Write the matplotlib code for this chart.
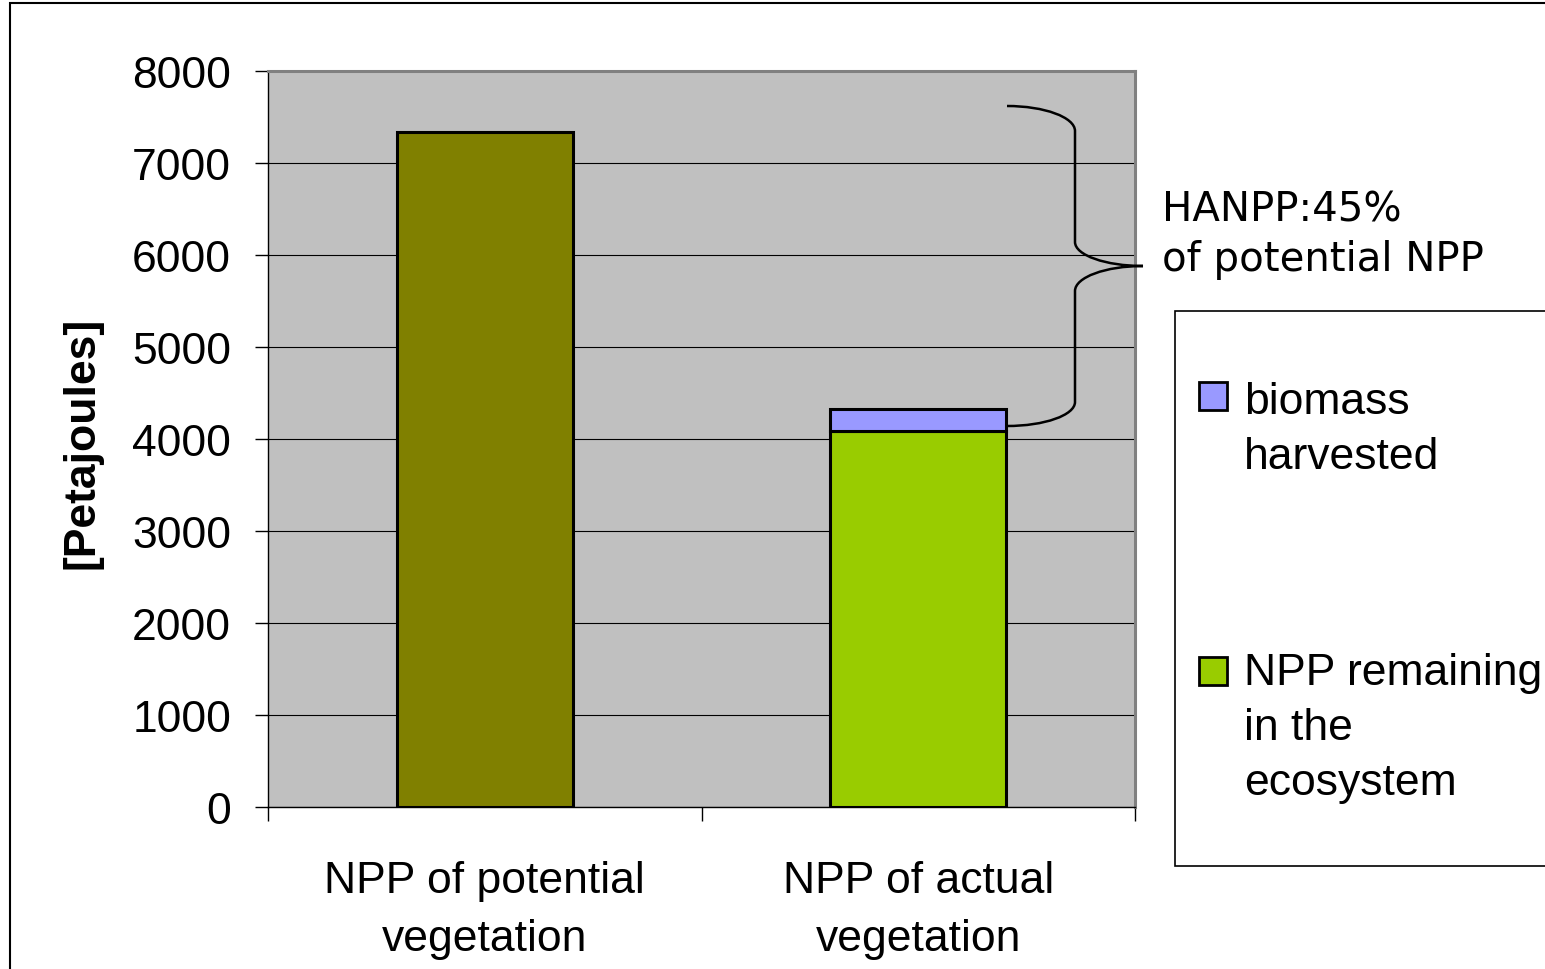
import matplotlib
matplotlib.use("Agg")
import matplotlib.pyplot as plt
from matplotlib.patches import Rectangle, PathPatch
from matplotlib.path import Path

# ---- data -------------------------------------------------------------
categories = ["NPP of potential\nvegetation", "NPP of actual\nvegetation"]
npp_potential = [7340, 0]       # olive column
npp_remaining = [0, 4090]       # green segment
biomass_harvested = [0, 240]    # blue segment on top of the green one
y_ticks = [0, 1000, 2000, 3000, 4000, 5000, 6000, 7000, 8000]
legend_labels = ["biomass\nharvested", "NPP remaining\nin the\necosystem"]
hanpp_text = ["HANPP:45%", "of potential NPP"]

# ---- colours ------------------------------------------------------------
C_POT = "#808000"
C_REM = "#99CC00"
C_HARV = "#9999FF"
C_BG = "#C0C0C0"

W, H = 1545, 970
FS = 32
fig = plt.figure(figsize=(W / 100, H / 100), dpi=100)
fig.patch.set_facecolor("white")


def fx(px):
    return px / W


def fy(py):
    return 1 - py / H


plt.rcParams["font.family"] = ["Liberation Sans", "DejaVu Sans"]

# outer chart frame
fig.patches.append(Rectangle((fx(10), fy(1000)), 1.2, fy(4) - fy(1000),
                             transform=fig.transFigure, fill=False,
                             edgecolor="black", lw=1.5, clip_on=False))

ax = fig.add_axes([fx(268), fy(808), fx(1135) - fx(268), fy(72) - fy(808)])
ax.set_facecolor(C_BG)
ax.set_xlim(-0.5, 1.5)
ax.set_ylim(0, 8000)
ax.set_axisbelow(True)
ax.yaxis.grid(True, color="black", lw=0.8)

bw = 0.406
x = range(len(categories))
bar_kw = dict(width=bw, edgecolor="black", linewidth=2.2, zorder=3)
ax.bar([0], [npp_potential[0]], color=C_POT, **bar_kw)
ax.bar([1], [npp_remaining[1]], color=C_REM, **bar_kw)
ax.bar([1], [biomass_harvested[1]], bottom=[npp_remaining[1]], color=C_HARV, **bar_kw)

# spines
for s in ("top", "right"):
    ax.spines[s].set_color("#808080")
    ax.spines[s].set_linewidth(2.2)
for s in ("left", "bottom"):
    ax.spines[s].set_color("black")
    ax.spines[s].set_linewidth(1.0)

# y axis
ax.set_yticks(y_ticks)
ax.set_yticklabels([str(v) for v in y_ticks])
ax.tick_params(axis="y", length=9.5, width=1, pad=17, labelsize=FS, color="black")

# x axis: tick marks between categories, labels under the columns
ax.set_xticks([-0.5, 0.5, 1.5])
ax.set_xticklabels([])
ax.set_xticks(list(x), minor=True)
ax.set_xticklabels(categories, minor=True, linespacing=1.55)
ax.tick_params(axis="x", which="major", length=10, width=1, color="black")
ax.tick_params(axis="x", which="minor", length=0, pad=38, labelsize=FS)

# y label
fig.text(fx(82), fy(443), "[Petajoules]", rotation=90, ha="center", va="center",
         fontsize=FS, fontweight="bold")

# curly brace marking the appropriated share
def axpt(px, py):
    return ((px - 268) / 867, (808 - py) / 736)

k = 0.55
verts = [
    axpt(1007, 107),
    axpt(1007 + k * 68, 107), axpt(1075, 132 - k * 25), axpt(1075, 132),
    axpt(1075, 243),
    axpt(1075, 243 + k * 24), axpt(1143 - k * 68, 267), axpt(1143, 267),
    axpt(1143 - k * 68, 267), axpt(1075, 292 - k * 25), axpt(1075, 292),
    axpt(1075, 403),
    axpt(1075, 403 + k * 24), axpt(1007 + k * 68, 427), axpt(1007, 427),
]
codes = [Path.MOVETO,
         Path.CURVE4, Path.CURVE4, Path.CURVE4,
         Path.LINETO,
         Path.CURVE4, Path.CURVE4, Path.CURVE4,
         Path.CURVE4, Path.CURVE4, Path.CURVE4,
         Path.LINETO,
         Path.CURVE4, Path.CURVE4, Path.CURVE4]
brace = PathPatch(Path(verts, codes), transform=ax.transAxes, fill=False,
                  edgecolor="black", lw=1.8, clip_on=False, zorder=5)
ax.add_patch(brace)

for line, py in zip(hanpp_text, (210, 260)):
    fig.text(fx(1162), fy(py), line, ha="left", va="center", fontsize=29,
             family="DejaVu Sans")

# legend box
fig.patches.append(Rectangle((fx(1175), fy(867)), 0.3, fy(312) - fy(867),
                             transform=fig.transFigure, facecolor="white",
                             edgecolor="black", lw=1.2, clip_on=False, zorder=1))
legend_colors = [C_HARV, C_REM]
legend_tops = [383, 658]
legend_last_baselines = [469, 795]
for lab, col, top, base in zip(legend_labels, legend_colors, legend_tops,
                               legend_last_baselines):
    fig.patches.append(Rectangle((fx(1199), fy(top + 28)), fx(28), fy(top) - fy(top + 28),
                                 transform=fig.transFigure, facecolor=col,
                                 edgecolor="black", lw=2.0, zorder=2))
    fig.text(fx(1244), fy(base), lab, ha="left", va="baseline",
             fontsize=FS, linespacing=1.44, zorder=3)

fig.savefig("out.png", dpi=100)
